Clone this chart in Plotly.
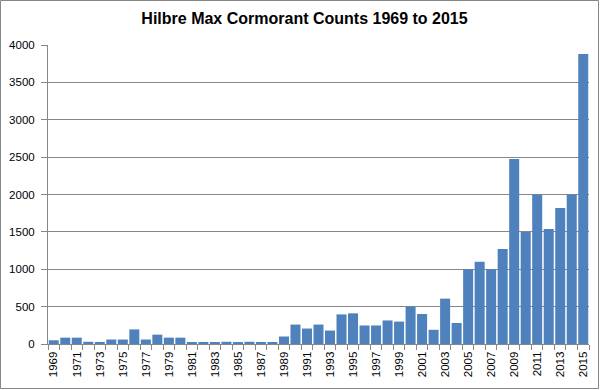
import plotly.graph_objects as go

years = list(range(1969, 2016))
counts = [50, 85, 85, 30, 18, 60, 60, 195, 60, 125, 85, 85,
          18, 18, 18, 30, 18, 30, 18, 18, 100, 260, 207, 260, 180, 396,
          410, 248, 248, 315, 300, 500, 401, 190, 607, 281, 1000, 1100,
          1000, 1270, 2475, 1500, 2000, 1540, 1820, 2000, 3880]
tick_years = list(range(1969, 2016, 2))
title_text = "Hilbre Max Cormorant Counts 1969 to 2015"

W, H = 600, 390
ml, mr, mt, mb = 48, 11, 45, 46
pw, ph = W - ml - mr, H - mt - mb

fig = go.Figure(go.Bar(x=years, y=counts, marker_color="#4F81BD",
                       marker_line_width=0))

grid = "#878787"
fig.update_layout(
    width=W, height=H,
    margin=dict(l=ml, r=mr, t=mt, b=mb, autoexpand=False),
    paper_bgcolor="white", plot_bgcolor="white",
    bargap=0.13,
    showlegend=False,
    font=dict(family="Liberation Sans, Arial, sans-serif", size=11, color="black"),
    title=dict(text="<b>" + title_text + "</b>", x=(304.5) / W, xanchor="center",
               y=1 - 18.5 / H, yanchor="middle",
               font=dict(size=16, color="black")),
    xaxis=dict(range=[1968.5, 2015.5], tickmode="array", tickvals=tick_years,
               ticktext=[str(y) for y in tick_years], tickangle=-90,
               ticks="outside", ticklen=2, tickcolor="rgba(0,0,0,0)",
               showgrid=False, showline=True, linecolor=grid,
               linewidth=1, zeroline=False, automargin=False,
               tickfont=dict(size=11.5),
               minor=dict(tick0=1968.5, dtick=1, ticks="outside", ticklen=5,
                          tickcolor=grid, tickwidth=1, showgrid=False)),
    yaxis=dict(range=[0, 4000], dtick=500, showgrid=True, gridcolor=grid,
               gridwidth=1, ticks="outside", ticklen=6, tickcolor=grid,
               showline=True, linecolor=grid, linewidth=1, zeroline=False,
               automargin=False, ticklabelstandoff=4,
               tickfont=dict(size=11.5)),
    shapes=[dict(type="rect", xref="paper", yref="paper",
                 x0=(0.5 - ml) / pw, x1=(W - 1.5 - ml) / pw,
                 y0=-(mb - 1.5) / ph, y1=1 + (mt - 0.5) / ph,
                 line=dict(color="#868686", width=1), layer="above")],
)

fig.write_html("out.html", config={"displayModeBar": False},
               post_script="document.body.style.margin='0';document.body.style.overflow='hidden';")
